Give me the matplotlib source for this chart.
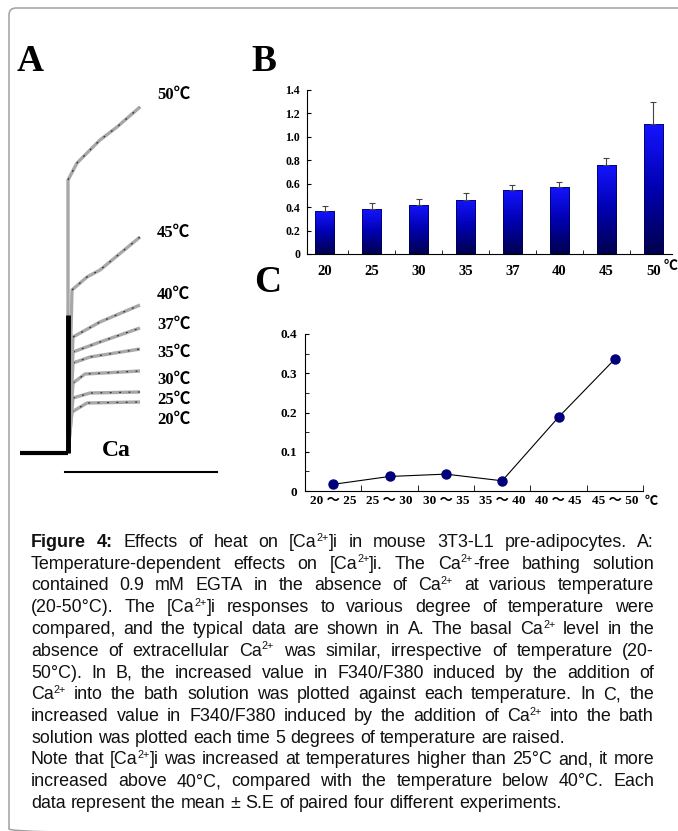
import re
import numpy as np
import matplotlib.pyplot as plt
from matplotlib.colors import LinearSegmentedColormap
from matplotlib.patches import FancyBboxPatch

W, H = 678, 831
SERIF = ['Liberation Serif', 'Noto Sans CJK SC']

# --- A: fura-2 traces (time, F340/F380 change), Ca added at t = 48
ca_on = 48
a_temps = ['20', '25', '30', '35', '37', '40', '45', '50']
a_times = [[52, 67, 120], [53, 70, 120], [53, 65, 120], [53, 70, 120],
           [53, 80, 120], [53, 80, 120], [52, 67, 80, 120], [48, 57, 80, 97, 120]]
a_vals = [[0.41, 0.50, 0.51], [0.55, 0.60, 0.61], [0.70, 0.79, 0.82], [0.90, 0.96, 1.04],
          [1.01, 1.11, 1.25], [1.16, 1.31, 1.48], [1.63, 1.76, 1.83, 2.16],
          [2.73, 2.90, 3.13, 3.26, 3.46]]
a_label_y = [0.33, 0.53, 0.73, 1.00, 1.28, 1.58, 2.20, 3.58]

# --- B: increase in F340/F380 at each temperature
b_temps = ['20', '25', '30', '35', '37', '40', '45', '50']
b_mean = [0.367, 0.384, 0.421, 0.461, 0.549, 0.575, 0.763, 1.107]
b_se = [0.046, 0.051, 0.046, 0.057, 0.043, 0.043, 0.060, 0.190]

# --- C: increase per 5 degree step
c_ranges = ['20 ～ 25', '25 ～ 30', '30 ～ 35', '35 ～ 40', '40 ～ 45', '45 ～ 50']
c_vals = [0.017, 0.037, 0.043, 0.026, 0.188, 0.336]

caption = [
    "*Figure *4: Effects of heat on [Ca^{2+}]i in mouse 3T3-L1 pre-adipocytes. A:",
    "Temperature-dependent effects on [Ca^{2+}]i. The Ca^{2+}-free bathing solution",
    "contained 0.9 mM EGTA in the absence of Ca^{2+} at various temperature",
    "(20-50°C). The [Ca^{2+}]i responses to various degree of temperature were",
    "compared, and the typical data are shown in A. The basal Ca^{2+} level in the",
    "absence of extracellular Ca^{2+} was similar, irrespective of temperature (20-",
    "50°C). In B, the increased value in F340/F380 induced by the addition of",
    "Ca^{2+} into the bath solution was plotted against each temperature. In C, the",
    "increased value in F340/F380 induced by the addition of Ca^{2+} into the bath",
    "solution was plotted each time 5 degrees of temperature are raised.",
    "Note that [Ca^{2+}]i was increased at temperatures higher than 25°C and, it more",
    "increased above 40°C, compared with the temperature below 40°C. Each",
    "data represent the mean ± S.E of paired four different experiments.",
]
justified = [True] * 9 + [False, True, True, False]

fig = plt.figure(figsize=(W / 100, H / 100), dpi=100)

def box(l, t, r, b):
    return [l / W, 1 - b / H, (r - l) / W, (b - t) / H]

# background layer in pixel units
bg = fig.add_axes([0, 0, 1, 1], zorder=-5)
bg.set_xlim(0, W)
bg.set_ylim(H, 0)
bg.axis('off')
bg.add_patch(FancyBboxPatch((9, 8), 720, 828, boxstyle='round,pad=0,rounding_size=7',
                            fc='none', ec='#a0a0a0', lw=1.1))
for lab, (x, y) in zip('ABC', [(17, 71), (251, 71), (254, 292)]):
    bg.text(x, y, lab, fontsize=27, fontweight='bold', family=SERIF, va='baseline')

# ---------------- A
axa = fig.add_axes(box(20, 60, 220, 475))
axa.set_xlim(0, 200)
axa.set_ylim(-0.22, 3.93)
axa.axis('off')
for temp, t, v, ly in zip(a_temps, a_times, a_vals, a_label_y):
    tt = [ca_on] + t
    vv = [0] + v
    axa.plot(tt, vv, color='#a8a8a8', lw=2.4, solid_capstyle='butt')
    axa.plot(tt[1:], vv[1:], color='black', lw=0.9, dashes=(1.5, 6), alpha=0.7)
    axa.text(137, ly, temp + '℃', fontsize=12, fontweight='bold', family=SERIF, va='center')
axa.plot([0, ca_on], [0, 0], color='black', lw=3, solid_capstyle='butt')
axa.plot([ca_on, ca_on], [0, 1.38], color='black', lw=3.5, solid_capstyle='butt')
axa.plot([45, 197], [-0.19, -0.19], color='black', lw=1.5)
axa.text(96, 0.03, 'Ca', fontsize=17, fontweight='bold', family=SERIF, ha='center', va='center')

# ---------------- B
axb = fig.add_axes(box(307, 90, 672, 254))
xb = np.arange(len(b_temps))
bars = axb.bar(xb, b_mean, width=0.41, color='none', ec='#00004a', lw=0.5, zorder=2)
cmap = LinearSegmentedColormap.from_list('blu', ['#00004e', '#0000b0', '#1414ff'])
grad = np.linspace(0, 1, 100).reshape(-1, 1)
for bar in bars:
    x0, w, h = bar.get_x(), bar.get_width(), bar.get_height()
    im = axb.imshow(grad, extent=[x0, x0 + w, 0, h], origin='lower', cmap=cmap,
                    aspect='auto', zorder=1)
    im.set_clip_path(bar)
axb.errorbar(xb, b_mean, yerr=[np.zeros(len(b_se)), b_se], fmt='none', ecolor='#444444',
             elinewidth=0.8, capsize=2, capthick=0.8, zorder=3)
axb.set_xlim(-0.38, 7.4)
axb.set_ylim(0, 1.4)
for s in ['top', 'right']:
    axb.spines[s].set_visible(False)
yt = np.arange(0, 1.41, 0.2)
axb.set_yticks(yt, ['0'] + ['%.1f' % v for v in yt[1:]], fontsize=8.5, fontweight='bold',
               family=SERIF)
axb.tick_params(axis='y', direction='in', length=3, pad=5)
axb.set_xticks(xb, b_temps, fontsize=10.5, fontweight='bold', family=SERIF)
axb.tick_params(axis='x', which='major', length=0, pad=8)
axb.set_xticks(np.arange(0.5, 7.5, 1), minor=True)
axb.tick_params(axis='x', which='minor', direction='in', length=3)
axb.annotate('℃', xy=(xb[-1], 0), xycoords=('data', 'axes fraction'), xytext=(17, -13),
             textcoords='offset pixels', fontsize=10, fontweight='bold', family=SERIF,
             ha='center', va='center', annotation_clip=False)

# ---------------- C
axc = fig.add_axes(box(305, 334, 643, 491))
xc = np.arange(len(c_ranges))
axc.plot(xc, c_vals, color='black', lw=0.8, marker='o', ms=6.5, mfc='#00007a', mec='#00007a')
axc.set_xlim(-0.5, 5.5)
axc.set_ylim(0, 0.4)
for s in ['top', 'right']:
    axc.spines[s].set_visible(False)
yc = np.arange(0, 0.41, 0.1)
axc.set_yticks(yc, ['0'] + ['%.1f' % v for v in yc[1:]], fontsize=9.5, fontweight='bold',
               family=SERIF)
axc.set_yticks(np.arange(0.05, 0.4, 0.1), minor=True)
axc.tick_params(axis='y', which='both', direction='in', length=3, pad=6)
axc.set_xticks(xc, c_ranges, fontsize=9.5, fontweight='bold', family=SERIF)
axc.tick_params(axis='x', which='major', length=0, pad=3)
axc.set_xticks(np.arange(0.5, 6, 1), minor=True)
axc.tick_params(axis='x', which='minor', direction='in', length=4)
axc.annotate('℃', xy=(5.5, 0), xycoords=('data', 'axes fraction'), xytext=(8, -11),
             textcoords='offset pixels', fontsize=9.5, fontweight='bold', family=SERIF,
             ha='center', va='center', annotation_clip=False)

# ---------------- caption (justified, hand-made superscripts)
rend = fig.canvas.get_renderer()
cap_l, cap_r = 31, 654
plain = caption[10].replace('^{', '').replace('}', '')
probe = bg.text(0, 0, plain, fontsize=12, family='Liberation Sans')
fs = 12 * (cap_r - cap_l) / probe.get_window_extent(rend).width
probe.remove()
sp = bg.text(0, 0, 'a a', fontsize=fs, family='Liberation Sans')
sp2 = bg.text(0, 0, 'aa', fontsize=fs, family='Liberation Sans')
space_w = sp.get_window_extent(rend).width - sp2.get_window_extent(rend).width
sp.remove()
sp2.remove()
raise_px = fs * 100 / 72 * 0.36


def word_parts(word, y):
    bold = word.startswith('*')
    parts = []
    for seg in re.split(r'(\^\{[^}]*\})', word.strip('*')):
        if not seg:
            continue
        sup = seg.startswith('^{')
        t = bg.text(0, y - raise_px if sup else y, seg[2:-1] if sup else seg,
                    fontsize=fs * 0.6 if sup else fs, family='Liberation Sans',
                    fontweight='bold' if bold else 'normal', va='baseline', color='#111111')
        parts.append((t, t.get_window_extent(rend).width))
    return parts


y0, dy = 547, 21.75
for i, (line, just) in enumerate(zip(caption, justified)):
    words = [word_parts(w, y0 + i * dy) for w in line.split(' ')]
    widths = [sum(p[1] for p in wp) for wp in words]
    gap = (cap_r - cap_l - sum(widths)) / (len(words) - 1) if just else space_w
    x = cap_l
    for wp, w in zip(words, widths):
        xx = x
        for t, pw in wp:
            t.set_x(xx)
            xx += pw
        x += w + gap

fig.savefig('out.png', dpi=100)
